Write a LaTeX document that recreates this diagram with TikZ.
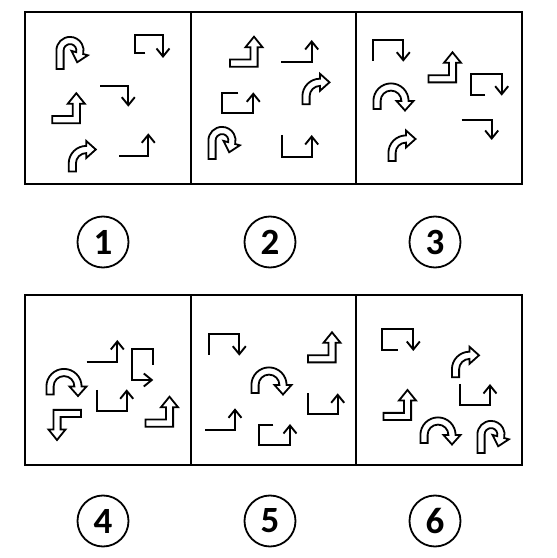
\documentclass[tikz,border=0pt]{standalone}
\usepackage{fontspec}
\newfontfamily\numfont{Carlito}
\usetikzlibrary{arrows.meta}

\newcommand{\shaftw}{3.6}
\newcommand{\headw}{8.5}
\newcommand{\headl}{9.5}

% hollow bent arrow: x, y (foot of the stem), radius, stem, end angle
\newcommand{\hollowturn}[5]{%
  \begin{scope}[shift={(#1,#2)}]
    \draw[hollow] (-\shaftw,0) -- (-\shaftw,#4)
      arc[start angle=180, end angle=#5, radius=#3+\shaftw]
      -- ({#3+(#3+\headw)*cos(#5)}, {#4+(#3+\headw)*sin(#5)})
      -- ({#3+#3*cos(#5)+\headl*sin(#5)}, {#4+#3*sin(#5)-\headl*cos(#5)})
      -- ({#3+(#3-\headw)*cos(#5)}, {#4+(#3-\headw)*sin(#5)})
      -- ({#3+(#3-\shaftw)*cos(#5)}, {#4+(#3-\shaftw)*sin(#5)})
      arc[start angle=#5, end angle=180, radius=#3-\shaftw]
      -- (\shaftw,0) -- cycle;
  \end{scope}}

% hollow step arrow: x, y (the bend), rotation
\newcommand{\hollowstep}[3]{%
  \begin{scope}[shift={(#1,#2)}, rotate=#3]
    \draw[hollow] (-24,-\shaftw) -- (\shaftw,-\shaftw) -- (\shaftw,16) -- (\headw,16)
      -- (0,{16+\headl+1}) -- (-\headw,16) -- (-\shaftw,16) -- (-\shaftw,\shaftw)
      -- (-24,\shaftw) -- cycle;
  \end{scope}}

\tikzset{
  panel/.style={line width=2.2pt},
  hollow/.style={line width=1.8pt, fill=white, line join=miter},
  bent/.style={line width=1.9pt, -{Straight Barb[length=8pt,width=13pt]}},
  numcircle/.style={circle, draw, line width=1.8pt, minimum size=51pt, inner sep=0pt,
    font=\numfont\bfseries\fontsize{37}{37}\selectfont},
}

\begin{document}
\begin{tikzpicture}[x=1pt, y=1pt]
    \useasboundingbox (0,0) rectangle (557,558);

    \foreach \lo/\hi in {374/546, 93/263} {
        \draw[panel] (25,\lo) rectangle (522,\hi);
        \draw[panel] (191,\lo) -- (191,\hi);
        \draw[panel] (356,\lo) -- (356,\hi);
    }

    % panel 1
    \draw[bent] (145.3,505) -- (134.7,505) -- (134.7,523.3) -- (163,523.3) -- (163,500);
    \draw[bent] (100,472) -- (128.3,472) -- (128.3,451.3);
    \draw[bent] (119,402.3) -- (148.3,402.3) -- (148.3,424.7);
    \hollowturn{60}{489}{10}{18.5}{-15}
    \hollowstep{76.3}{438.3}{0}
    \hollowturn{72.3}{386.5}{14}{8}{90}

    % panel 2
    \draw[bent] (281,496.3) -- (311.7,496.3) -- (311.7,518);
    \draw[bent] (238.3,465.3) -- (221.7,465.3) -- (221.7,444.7) -- (253.3,444.7) -- (253.3,465.7);
    \draw[bent] (282.3,423) -- (282.3,401.3) -- (311.7,401.3) -- (311.7,423);
    \hollowstep{254}{494.8}{0}
    \hollowturn{306}{453.7}{14}{8}{90}
    \hollowturn{212}{399}{10}{18.5}{-15}

    % panel 3
    \draw[bent] (373.3,497) -- (373.3,518) -- (403.3,518) -- (403.3,496.3);
    \draw[bent] (485,463) -- (470.7,463) -- (470.7,483.7) -- (501.7,483.7) -- (501.7,462.3);
    \draw[bent] (461.7,438) -- (491.7,438) -- (491.7,418);
    \hollowstep{452.5}{479.2}{0}
    \hollowturn{377}{449}{14}{8}{0}
    \hollowturn{392}{397}{14}{8}{90}

    % panel 4
    \draw[bent] (86.7,196.3) -- (117.3,196.3) -- (117.3,218);
    \draw[bent] (152.7,193) -- (152.7,208.7) -- (131.7,208.7) -- (131.7,178) -- (153.3,178);
    \draw[bent] (97.3,168) -- (97.3,147.3) -- (126.7,147.3) -- (126.7,168.7);
    \hollowturn{50}{163.5}{14}{8}{0}
    \hollowstep{57}{144.5}{180}
    \hollowstep{169.5}{134.8}{0}

    % panel 5
    \draw[bent] (209,203) -- (209,224) -- (239.3,224) -- (239.3,202.3);
    \draw[bent] (307.7,164.7) -- (307.7,143.7) -- (337.7,143.7) -- (337.7,164.7);
    \draw[bent] (205,128) -- (235,128) -- (235,149.7);
    \draw[bent] (273.3,133) -- (259,133) -- (259,113) -- (290,113) -- (290,134);
    \hollowstep{332}{199.2}{0}
    \hollowturn{255}{165}{14}{8}{0}

    % panel 6
    \draw[bent] (397.7,208) -- (382.3,208) -- (382.3,229) -- (413.3,229) -- (413.3,207);
    \draw[bent] (460,174) -- (460,153) -- (490,153) -- (490,174);
    \hollowturn{455.5}{180.7}{14}{8}{90}
    \hollowstep{407.5}{141.5}{0}
    \hollowturn{424}{115}{14}{8}{0}
    \hollowturn{481}{105}{10}{18.5}{-15}

    % answer numbers
    \node[numcircle] (n1) at (103,316) {1};
    \node[numcircle] (n2) at (270,316) {2};
    \node[numcircle] (n3) at (435,316) {3};
    \node[numcircle] (n4) at (103,37) {4};
    \node[numcircle] (n5) at (270,37) {5};
    \node[numcircle] (n6) at (435,37) {6};
\end{tikzpicture}
\end{document}
